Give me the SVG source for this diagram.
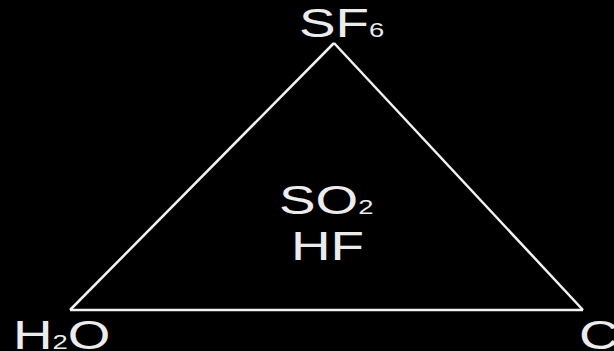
<svg xmlns="http://www.w3.org/2000/svg" width="614" height="351" viewBox="0 0 614 351">
<style>
.t{font-family:"Liberation Sans",Arial,sans-serif;font-size:40px;fill:#ececec}
.s{font-size:20px}
.e{fill:none;stroke:#f2f2f2;stroke-width:2.5;stroke-linejoin:miter}
</style>
<rect width="614" height="351" fill="#000"/>
<g id="connectors">
<path class="e" d="M334,43 L70,310"/>
<path class="e" d="M334,43 L583,310"/>
<path class="e" d="M70,310 L583,310"/>
</g>
<g id="sf6"><text class="t" transform="translate(299,37) scale(1.37,1)">SF<tspan class="s">6</tspan></text></g>
<g id="center"><text class="t" transform="translate(279,214) scale(1.37,1)">SO<tspan class="s">2</tspan></text>
<text class="t" transform="translate(291,260) scale(1.37,1)">HF</text></g>
<g id="h2o"><text class="t" transform="translate(13,349) scale(1.37,1)">H<tspan class="s">2</tspan>O</text></g>
<g id="c"><text class="t" transform="translate(579,349) scale(1.37,1)">C</text></g>
</svg>
